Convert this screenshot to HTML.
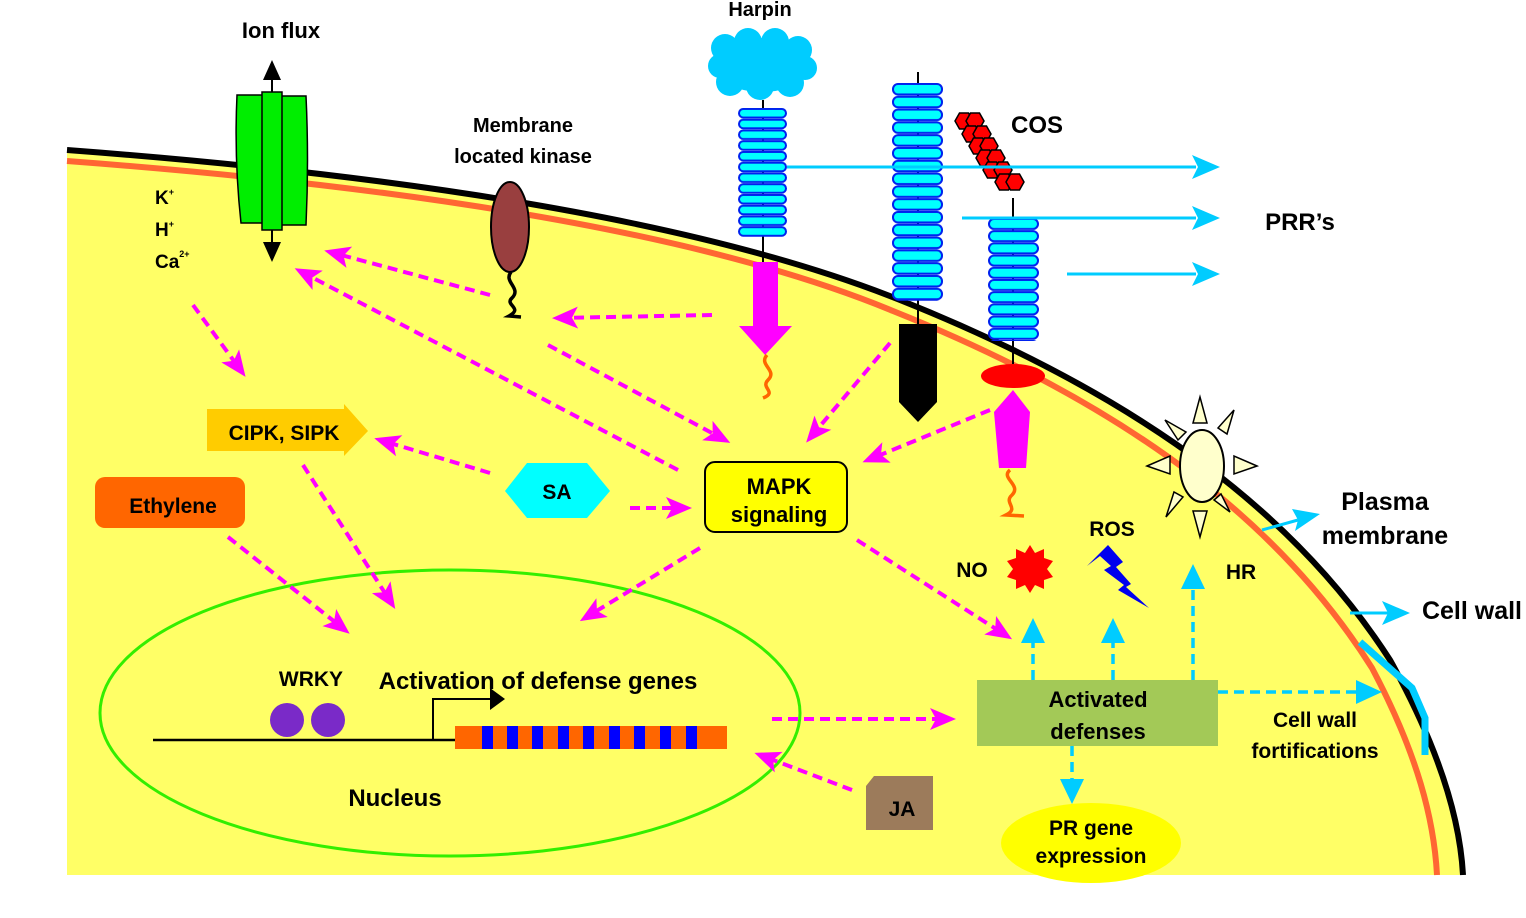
<!DOCTYPE html>
<html><head><meta charset="utf-8"><style>
html,body{margin:0;padding:0;background:#fff;}
svg{display:block;}
text{font-family:"Liberation Sans Narrow","Liberation Sans",sans-serif;font-weight:bold;fill:#000;}
</style></head><body>
<svg width="1526" height="918" viewBox="0 0 1526 918" xmlns="http://www.w3.org/2000/svg">
<defs>
<marker id="mgB" markerWidth="26" markerHeight="26" refX="20" refY="13" orient="auto" markerUnits="userSpaceOnUse"><path d="M0,2 L26,13 L0,24 L6,13 Z" fill="#ff00ff"/></marker>
<pattern id="p1" x="738" y="108" width="50" height="10.75" patternUnits="userSpaceOnUse"><rect x="1" y="1" width="47" height="8.5" rx="4.2" fill="#00ffff" stroke="#0022ee" stroke-width="2"/></pattern>
<pattern id="p2" x="892" y="83" width="52" height="12.8" patternUnits="userSpaceOnUse"><rect x="1" y="1" width="49" height="10.5" rx="5" fill="#00ffff" stroke="#0022ee" stroke-width="2"/></pattern>
<pattern id="p3" x="988" y="218" width="52" height="12.2" patternUnits="userSpaceOnUse"><rect x="1" y="1" width="49" height="10" rx="5" fill="#00ffff" stroke="#0022ee" stroke-width="2"/></pattern>
<polygon id="hx" points="-9,0 -4.5,-8 4.5,-8 9,0 4.5,8 -4.5,8" fill="#ff0000" stroke="#000" stroke-width="1.5"/>
</defs>

<!-- cell -->
<path d="M67,150 C400,175 700,220 900,300 C1150,400 1300,520 1390,660 C1440,750 1460,820 1463,875 L67,875 Z" fill="#ffff66"/>
<path d="M67,150 C400,175 700,220 900,300 C1150,400 1300,520 1390,660 C1440,750 1460,820 1463,875" fill="none" stroke="#000" stroke-width="6"/>
<path d="M67,161 C400,186 700,231 893,311 C1140,410 1285,530 1372,668 C1418,755 1434,820 1437,875" fill="none" stroke="#ff6633" stroke-width="6"/>

<!-- ion channel -->
<line x1="272" y1="72" x2="272" y2="252" stroke="#000" stroke-width="2"/>
<path d="M272,60 L263,80 L281,80 Z M272,262 L263,242 L281,242 Z" fill="#000"/>
<path d="M237,95 L265,95 Q262,159 265,223 L241,223 Q234,159 237,95 Z" fill="#00ee00" stroke="#000" stroke-width="1.5"/>
<path d="M279,96 L306,96 Q309,160 306,225 L280,225 Q276,160 279,96 Z" fill="#00ee00" stroke="#000" stroke-width="1.5"/>
<rect x="262" y="92" width="20" height="138" fill="#00ee00" stroke="#000" stroke-width="1.5"/>
<text x="281" y="38" font-size="22" text-anchor="middle">Ion flux</text>
<text x="155" y="204" font-size="19">K<tspan font-size="9" dy="-9">+</tspan></text>
<text x="155" y="236" font-size="19">H<tspan font-size="9" dy="-9">+</tspan></text>
<text x="155" y="268" font-size="19">Ca<tspan font-size="9" dy="-11">2+</tspan></text>

<!-- membrane kinase -->
<text x="523" y="132" font-size="20" text-anchor="middle">Membrane</text>
<text x="523" y="163" font-size="20" text-anchor="middle">located kinase</text>
<path d="M511,272 C503,282 522,288 512,298 C504,305 524,308 509,316 L521,317" fill="none" stroke="#000" stroke-width="3.5"/>
<ellipse cx="510" cy="227" rx="19" ry="45" fill="#993f3f" stroke="#000" stroke-width="2"/>

<!-- harpin receptor -->
<text x="760" y="16" font-size="20" text-anchor="middle">Harpin</text>
<g fill="#00ccff">
<ellipse cx="762" cy="65" rx="48" ry="27"/>
<circle cx="725" cy="48" r="14"/><circle cx="748" cy="42" r="14"/><circle cx="775" cy="42" r="14"/><circle cx="798" cy="50" r="14"/>
<circle cx="720" cy="66" r="12"/><circle cx="805" cy="68" r="12"/><circle cx="730" cy="82" r="14"/><circle cx="760" cy="86" r="14"/><circle cx="790" cy="83" r="14"/>
</g>
<line x1="763" y1="100" x2="763" y2="262" stroke="#000" stroke-width="2"/>
<rect x="738" y="108" width="50" height="129" fill="url(#p1)"/>
<path d="M753,262 L778,262 L778,326 L792,326 L765,355 L739,326 L753,326 Z" fill="#ff00ff"/>
<path d="M767,355 C758,365 778,370 768,380 C760,388 778,392 763,398" fill="none" stroke="#ff6600" stroke-width="3.5"/>

<!-- receptor 2 -->
<line x1="918" y1="72" x2="918" y2="325" stroke="#000" stroke-width="2"/>
<rect x="892" y="83" width="52" height="218" fill="url(#p2)"/>
<path d="M899,324 L937,324 L937,402 L918,422 L899,402 Z" fill="#000"/>

<!-- COS -->
<use href="#hx" x="964" y="121"/><use href="#hx" x="975" y="121"/>
<use href="#hx" x="971" y="134"/><use href="#hx" x="982" y="134"/>
<use href="#hx" x="978" y="146"/><use href="#hx" x="989" y="146"/>
<use href="#hx" x="985" y="158"/><use href="#hx" x="996" y="158"/>
<use href="#hx" x="992" y="170"/><use href="#hx" x="1003" y="170"/>
<use href="#hx" x="1004" y="182"/><use href="#hx" x="1015" y="182"/>
<text x="1037" y="133" font-size="24" text-anchor="middle">COS</text>

<!-- receptor 3 -->
<line x1="1013" y1="198" x2="1013" y2="370" stroke="#000" stroke-width="2"/>
<rect x="988" y="218" width="52" height="123" fill="url(#p3)"/>
<ellipse cx="1013" cy="376" rx="32" ry="12" fill="#ff0000"/>
<path d="M1013,390 L1030,412 L1026,468 L999,468 L994,412 Z" fill="#ff00ff"/>
<path d="M1010,470 C1000,478 1022,485 1012,495 C1003,503 1020,508 1006,515 L1024,516" fill="none" stroke="#ff6600" stroke-width="3.5"/>

<!-- PRR arrows -->
<g stroke="#00ccff" stroke-width="3" fill="none">
<line x1="787" y1="167" x2="1196" y2="167"/>
<line x1="962" y1="218" x2="1196" y2="218"/>
<line x1="1067" y1="274" x2="1196" y2="274"/>
</g>
<path d="M1220,167 L1192,155 L1198,167 L1192,179 Z M1220,218 L1192,206 L1198,218 L1192,230 Z M1220,274 L1192,262 L1198,274 L1192,286 Z" fill="#00ccff"/>
<text x="1300" y="230" font-size="24" text-anchor="middle">PRR’s</text>

<!-- boxes -->
<path d="M207,409 L344,409 L344,404 L368,431 L344,456 L344,451 L207,451 Z" fill="#ffcc00"/>
<text x="284" y="440" font-size="21" text-anchor="middle">CIPK, SIPK</text>
<rect x="95" y="477" width="150" height="51" rx="10" fill="#ff6600"/>
<text x="173" y="513" font-size="21" text-anchor="middle">Ethylene</text>
<polygon points="505,491 527,463 587,463 610,491 587,518 527,518" fill="#00ffff"/>
<text x="557" y="499" font-size="21" text-anchor="middle">SA</text>
<rect x="705" y="462" width="142" height="70" rx="10" fill="#ffff00" stroke="#000" stroke-width="2"/>
<text x="779" y="494" font-size="22" text-anchor="middle">MAPK</text>
<text x="779" y="522" font-size="22" text-anchor="middle">signaling</text>

<!-- nucleus -->
<ellipse cx="450" cy="713" rx="350" ry="143" fill="none" stroke="#33ee00" stroke-width="3"/>
<text x="311" y="686" font-size="21" text-anchor="middle">WRKY</text>
<text x="538" y="689" font-size="24" text-anchor="middle">Activation of defense genes</text>
<ellipse cx="287" cy="720" rx="17" ry="17" fill="#7a2ac8"/>
<ellipse cx="328" cy="720" rx="17" ry="17" fill="#7a2ac8"/>
<line x1="153" y1="740" x2="455" y2="740" stroke="#000" stroke-width="2.5"/>
<path d="M433,740 L433,699 L492,699" fill="none" stroke="#000" stroke-width="2"/>
<path d="M505,699 L490,688 L490,710 Z" fill="#000"/>
<rect x="455" y="726" width="272" height="23" fill="#ff6600"/>
<g fill="#0000ff">
<rect x="482" y="726" width="11" height="23"/><rect x="507" y="726" width="11" height="23"/><rect x="532" y="726" width="11" height="23"/><rect x="558" y="726" width="11" height="23"/><rect x="583" y="726" width="11" height="23"/><rect x="609" y="726" width="11" height="23"/><rect x="634" y="726" width="11" height="23"/><rect x="660" y="726" width="11" height="23"/><rect x="686" y="726" width="11" height="23"/>
</g>
<text x="395" y="806" font-size="24" text-anchor="middle">Nucleus</text>

<path d="M874,776 L933,776 L933,830 L866,830 L866,786 Z" fill="#9c7b5b"/>
<text x="902" y="816" font-size="21" text-anchor="middle">JA</text>

<!-- defenses -->
<rect x="977" y="680" width="241" height="66" fill="#a3c957"/>
<text x="1098" y="707" font-size="22" text-anchor="middle">Activated</text>
<text x="1098" y="739" font-size="22" text-anchor="middle">defenses</text>
<ellipse cx="1091" cy="843" rx="90" ry="40" fill="#ffff00"/>
<text x="1091" y="835" font-size="21" text-anchor="middle">PR gene</text>
<text x="1091" y="863" font-size="21" text-anchor="middle">expression</text>

<text x="972" y="577" font-size="21" text-anchor="middle">NO</text>
<polygon points="1030,545 1035,553 1044,549 1044,558 1053,561 1047,569 1053,577 1044,580 1044,589 1035,585 1030,593 1025,585 1016,589 1016,580 1007,577 1013,569 1007,561 1016,558 1016,549 1025,553" fill="#ff0000"/>
<text x="1112" y="536" font-size="21" text-anchor="middle">ROS</text>
<polygon points="1087,566 1108,545 1123,562 1116,567 1131,584 1126,587 1149,608 1118,590 1124,585 1104,570 1111,566 1100,556" fill="#0000ee"/>
<text x="1241" y="579" font-size="21" text-anchor="middle">HR</text>

<!-- HR sun -->
<g fill="#ffffcc" stroke="#000" stroke-width="1.5">
<polygon points="1200,397 1193,423 1207,423"/>
<polygon points="1234,410 1218,428 1227,434"/>
<polygon points="1257,466 1234,456 1234,474"/>
<polygon points="1200,537 1193,511 1207,511"/>
<polygon points="1147,466 1170,456 1170,474"/>
<polygon points="1165,420 1178,440 1186,432"/>
<polygon points="1166,517 1183,497 1174,492"/>
<polygon points="1230,512 1221,494 1214,500"/>
</g>
<ellipse cx="1202" cy="466" rx="22" ry="36" fill="#ffffcc" stroke="#000" stroke-width="2"/>

<text x="1385" y="510" font-size="25" text-anchor="middle">Plasma</text>
<text x="1385" y="544" font-size="25" text-anchor="middle">membrane</text>
<text x="1472" y="619" font-size="25" text-anchor="middle">Cell wall</text>
<text x="1315" y="727" font-size="21" text-anchor="middle">Cell wall</text>
<text x="1315" y="758" font-size="21" text-anchor="middle">fortifications</text>

<g stroke="#00ccff" stroke-width="3" fill="none">
<line x1="1262" y1="530" x2="1298" y2="520"/>
<line x1="1350" y1="613" x2="1388" y2="613"/>
</g>
<path d="M1320,514 L1292,509 L1298,520 L1295,531 Z M1410,613 L1382,601 L1388,613 L1382,625 Z" fill="#00ccff"/>
<path d="M1360,642 L1412,688 L1425,718 L1425,755" fill="none" stroke="#00ccff" stroke-width="7"/>

<!-- cyan dashed -->
<g stroke="#00ccff" stroke-width="3.5" fill="none" stroke-dasharray="10 6">
<line x1="1033" y1="680" x2="1033" y2="642"/>
<line x1="1113" y1="680" x2="1113" y2="642"/>
<line x1="1193" y1="680" x2="1193" y2="588"/>
<line x1="1218" y1="692" x2="1358" y2="692"/>
<line x1="1072" y1="746" x2="1072" y2="782"/>
</g>
<path d="M1033,618 L1021,643 L1045,643 Z M1113,618 L1101,643 L1125,643 Z M1193,564 L1181,589 L1205,589 Z M1382,692 L1356,680 L1356,704 Z M1072,804 L1060,779 L1084,779 Z" fill="#00ccff"/>

<!-- magenta dashed -->
<g stroke="#ff00ff" stroke-width="4" fill="none" stroke-dasharray="10 6" marker-end="url(#mgB)">
<line x1="490" y1="295" x2="330" y2="252"/>
<line x1="678" y1="470" x2="300" y2="271"/>
<line x1="712" y1="315" x2="558" y2="318"/>
<line x1="548" y1="345" x2="725" y2="440"/>
<line x1="890" y1="343" x2="810" y2="438"/>
<line x1="990" y1="410" x2="868" y2="460"/>
<line x1="193" y1="305" x2="242" y2="372"/>
<line x1="490" y1="473" x2="380" y2="440"/>
<line x1="630" y1="508" x2="686" y2="508"/>
<line x1="303" y1="465" x2="392" y2="604"/>
<line x1="228" y1="537" x2="345" y2="630"/>
<line x1="700" y1="548" x2="585" y2="618"/>
<line x1="857" y1="540" x2="1007" y2="636"/>
<line x1="772" y1="719" x2="950" y2="719"/>
<line x1="852" y1="790" x2="760" y2="755"/>
</g>
</svg>
</body></html>
